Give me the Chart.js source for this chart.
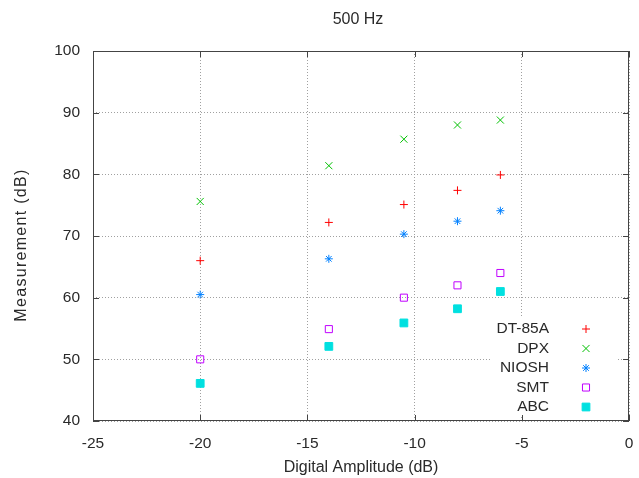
<!DOCTYPE html>
<html>
<head>
<meta charset="utf-8">
<script src="https://cdn.jsdelivr.net/npm/chart.js@4.4.0/dist/chart.umd.min.js"></script>
<style>
  html, body { margin: 0; padding: 0; background: #fff; }
  #wrap { width: 639px; height: 478px; }
</style>
</head>
<body>
<div id="wrap"><canvas id="chart" width="639" height="478"></canvas></div>
<script>
// 500 Hz measurements vs digital amplitude
const amplitudes = [-20, -14, -10.5, -8, -6];
const dt85a = [66.0, 72.2, 75.1, 77.4, 79.9];
const dpx = [75.6, 81.4, 85.7, 88.0, 88.8];
const niosh = [60.5, 66.3, 70.3, 72.4, 74.1];
const smt = [50.0, 54.9, 60.0, 62.0, 64.0];
const abc = [46.1, 52.1, 55.9, 58.2, 61.0];

const seriesNames = ["DT-85A", "DPX", "NIOSH", "SMT", "ABC"];
const seriesValues = [dt85a, dpx, niosh, smt, abc];
const xTicks = [-25, -20, -15, -10, -5, 0];
const yTicks = [40, 50, 60, 70, 80, 90, 100];

const styles = [
  { color: "#ff0000", pointStyle: "cross", radius: 4, fill: false },
  { color: "#00c000", pointStyle: "crossRot", radius: 5, fill: false },
  { color: "#0080ff", pointStyle: "star", radius: 4, fill: false },
  { color: "#c000ff", pointStyle: "rect", radius: 5, fill: false },
  { color: "#00e0e0", pointStyle: "rect", radius: 5.5, fill: true },
];

const FONT = "'Liberation Sans', Arial, sans-serif";
const TEXT = "#2a2a2a";
const BORDER = "#444";

const datasets = seriesNames.map((name, i) => ({
  label: name,
  data: amplitudes.map((x, j) => ({ x, y: seriesValues[i][j] })),
  pointStyle: styles[i].pointStyle,
  pointRadius: styles[i].radius,
  pointHoverRadius: styles[i].radius,
  pointBorderWidth: 1,
  borderColor: styles[i].color,
  backgroundColor: styles[i].fill ? styles[i].color : "rgba(0,0,0,0)",
  showLine: false,
}));

const framePlugin = {
  id: "frame",
  afterDraw(chart) {
    const { ctx, chartArea: a, scales } = chart;
    ctx.save();

    // title
    ctx.fillStyle = TEXT;
    ctx.font = `16px ${FONT}`;
    ctx.textAlign = "center";
    ctx.textBaseline = "middle";
    ctx.fillText("500 Hz", (a.left + a.right) / 2 - 3, 20);

    // y axis title (gnuplot spreads rotated text a little)
    ctx.save();
    ctx.translate(22, 245);
    ctx.rotate(-Math.PI / 2);
    ctx.letterSpacing = "1.3px";
    ctx.fillText("Measurement (dB)", 0, 0);
    ctx.restore();

    // legend box (opaque, hides grid)
    const rows = [329, 348.5, 368, 387.5, 407];
    ctx.fillStyle = "#fff";
    ctx.fillRect(492, 318, 124, 98);
    ctx.font = `15.5px ${FONT}`;
    ctx.textAlign = "right";
    seriesNames.forEach((name, i) => {
      ctx.fillStyle = TEXT;
      ctx.fillText(name, 549, rows[i]);
      ctx.strokeStyle = styles[i].color;
      ctx.fillStyle = styles[i].fill ? styles[i].color : "rgba(0,0,0,0)";
      ctx.lineWidth = 1;
      Chart.helpers.drawPoint(ctx, {
        pointStyle: styles[i].pointStyle,
        radius: styles[i].radius,
        rotation: 0,
        borderWidth: 1,
      }, 586, rows[i]);
    });

    // border + inward ticks
    ctx.strokeStyle = BORDER;
    ctx.lineWidth = 1;
    ctx.strokeRect(Math.round(a.left) + 0.5, Math.round(a.top) + 0.5,
      Math.round(a.right - a.left) - 1, Math.round(a.bottom - a.top) - 1);
    const t = 6;
    ctx.beginPath();
    xTicks.forEach((v) => {
      const px = Math.round(scales.x.getPixelForValue(v)) + 0.5;
      ctx.moveTo(px, a.bottom); ctx.lineTo(px, a.bottom - t);
      ctx.moveTo(px, a.top); ctx.lineTo(px, a.top + t);
    });
    yTicks.forEach((v) => {
      const py = Math.round(scales.y.getPixelForValue(v)) + 0.5;
      ctx.moveTo(a.left, py); ctx.lineTo(a.left + t, py);
      ctx.moveTo(a.right, py); ctx.lineTo(a.right - t, py);
    });
    ctx.stroke();
    ctx.restore();
  },
};

new Chart(document.getElementById("chart"), {
  type: "scatter",
  data: { datasets },
  plugins: [framePlugin],
  options: {
    responsive: false,
    animation: false,
    layout: { padding: { top: 51, right: 10, left: 0, bottom: 0 } },
    plugins: { legend: { display: false }, tooltip: { enabled: false }, title: { display: false } },
    scales: {
      x: {
        type: "linear",
        min: -25,
        max: 0,
        afterBuildTicks: (scale) => { scale.ticks = xTicks.map((v) => ({ value: v })); },
        afterFit: (scale) => { scale.height = 57; scale.paddingLeft = 0; scale.paddingRight = 0; },
        ticks: { color: TEXT, font: { family: FONT, size: 15.5 }, padding: 13, maxRotation: 0 },
        grid: { color: "#a0a0a0", lineWidth: 1, drawTicks: false },
        border: { display: false, dash: [1, 2] },
        title: { display: true, text: "Digital Amplitude (dB)", color: TEXT,
          font: { family: FONT, size: 16, lineHeight: 1.2 }, padding: { top: 0, bottom: 1 } },
      },
      y: {
        type: "linear",
        min: 40,
        max: 100,
        afterBuildTicks: (scale) => { scale.ticks = yTicks.map((v) => ({ value: v })); },
        afterFit: (scale) => { scale.width = 93; scale.paddingTop = 0; scale.paddingBottom = 0; },
        ticks: { color: TEXT, font: { family: FONT, size: 15.5 }, padding: 13 },
        grid: { color: "#a0a0a0", lineWidth: 1, drawTicks: false },
        border: { display: false, dash: [1, 2] },
        title: { display: false },
      },
    },
  },
});
</script>
</body>
</html>
